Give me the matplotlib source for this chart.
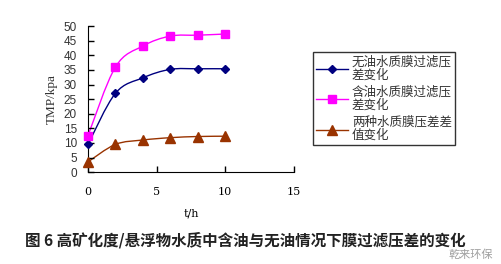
import numpy as np
import matplotlib.pyplot as plt
from matplotlib.path import Path
from matplotlib.patches import PathPatch
from matplotlib.lines import Line2D

plt.rcParams['font.family'] = ['Noto Sans CJK SC', 'DejaVu Sans']

# 数据
t = [0, 2, 4, 6, 8, 10]
no_oil = [9.5, 27.0, 32.3, 35.2, 35.4, 35.4]
oil = [12.5, 36.0, 43.2, 46.6, 46.9, 47.3]
diff = [3.5, 9.5, 11.0, 11.8, 12.2, 12.3]
labels = ["无油水质膜过滤压\n差变化", "含油水质膜过滤压\n差变化", "两种水质膜压差差\n值变化"]
colors = ["#000080", "#FF00FF", "#993300"]
markers = ["D", "s", "^"]
msizes = [4.5, 6, 6.5]


def smooth_path(x, y, k=0.5):
    # 平滑曲线 (Catmull-Rom -> Bezier)
    p = np.column_stack([x, y]).astype(float)
    verts = [p[0]]
    codes = [Path.MOVETO]
    n = len(p)
    for i in range(n - 1):
        p0 = p[i - 1] if i > 0 else p[i]
        p3 = p[i + 2] if i + 2 < n else p[i + 1]
        c1 = p[i] + (p[i + 1] - p0) * k / 3
        c2 = p[i + 1] - (p3 - p[i]) * k / 3
        verts += [c1, c2, p[i + 1]]
        codes += [Path.CURVE4] * 3
    return Path(verts, codes)


fig = plt.figure(figsize=(5.01, 2.64), dpi=100)
ax = fig.add_axes([0.1756, 0.348, 0.411, 0.553])

handles = []
for ys, c, m, ms, lab in zip([no_oil, oil, diff], colors, markers, msizes, labels):
    ax.add_patch(PathPatch(smooth_path(t, ys), facecolor="none", edgecolor=c, lw=1.0))
    ax.plot(t, ys, linestyle="none", marker=m, color=c, markersize=ms, clip_on=False, zorder=3)
    handles.append(Line2D([], [], color=c, lw=1.0, marker=m, markersize=ms, label=lab))

ax.set_xlim(0, 15)
ax.set_ylim(0, 50)
ax.set_xticks([0, 5, 10, 15])
ax.set_yticks(range(0, 51, 5))
ax.spines["top"].set_visible(False)
ax.spines["right"].set_visible(False)
ax.tick_params(direction="in", length=4, width=1, colors="black")
ax.tick_params(axis="x", pad=11, labelsize=8)
ax.tick_params(axis="y", pad=8, labelsize=8.5, labelcolor="#333333")
for lbl in ax.get_xticklabels():
    lbl.set_family(["DejaVu Serif"])
for lbl in ax.get_yticklabels():
    lbl.set_family(["Liberation Sans"])
ax.set_xlabel("t/h", fontsize=8, family=["DejaVu Serif"], labelpad=8)
ax.set_ylabel("TMP/kpa", fontsize=9.5, family=["Liberation Serif"], labelpad=4, color="#333333")

leg = fig.legend(handles=handles, loc="upper left", bbox_to_anchor=(0.624, 0.803),
                 fontsize=9, frameon=True, fancybox=False, handlelength=2.6,
                 labelspacing=0.3, borderpad=0.25, handletextpad=0.3, borderaxespad=0)
leg.get_frame().set_edgecolor("black")
leg.get_frame().set_linewidth(1.0)
for txt in leg.get_texts():
    txt.set_color("#333333")
    txt.set_linespacing(1.05)

fig.text(0.05, 0.09, "图 6 高矿化度/悬浮物水质中含油与无油情况下膜过滤压差的变化",
         fontsize=11.2, fontweight="bold", color="#222222", va="center")
fig.text(0.895, 0.035, "乾来环保", fontsize=8, color="#888888", va="center", alpha=0.8)

fig.savefig("out.png", dpi=100)
